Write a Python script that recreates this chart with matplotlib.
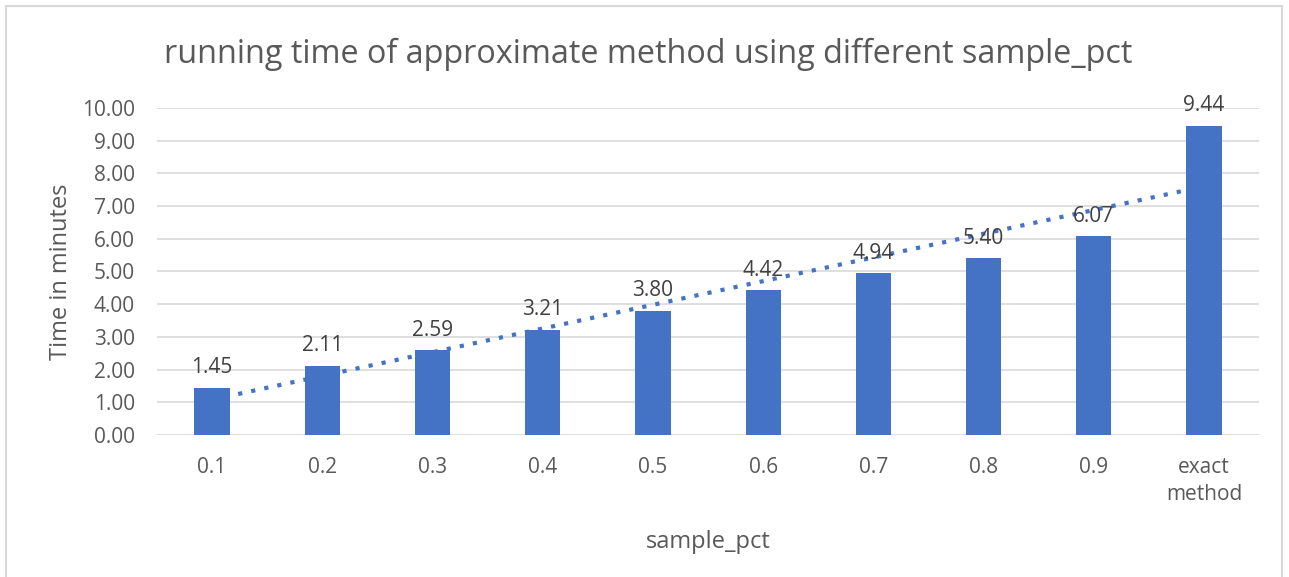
import numpy as np
import matplotlib.pyplot as plt
from matplotlib.patches import Rectangle

# данные с картинки
categories = ["0.1", "0.2", "0.3", "0.4", "0.5", "0.6", "0.7", "0.8", "0.9", "exact\nmethod"]
times = [1.45, 2.11, 2.59, 3.21, 3.80, 4.42, 4.94, 5.40, 6.07, 9.44]

plt.rcParams['font.family'] = ['Open Sans', 'DejaVu Sans']

bar_color = '#4472C4'
text_color = '#595959'

fig = plt.figure(figsize=(12.89, 5.77), dpi=100)
ax = fig.add_axes([0.1218, 0.246, 0.855, 0.567])

x = np.arange(len(categories))
ax.bar(x, times, width=0.32, color=bar_color, zorder=2)

# линейный тренд как в Excel
xt = x + 1
k, b = np.polyfit(xt, times, 1)
ax.plot(x, k * xt + b, linestyle=(0, (1, 2.2)), color=bar_color, linewidth=3, zorder=3)

for xi, v in zip(x, times):
    ax.text(xi, v + 0.3, "{:.2f}".format(v), ha='center', va='bottom', fontsize=15, color='#404040', zorder=4)

ax.set_xlim(-0.5, len(categories) - 0.5)
ax.set_ylim(0, 10)
ax.set_yticks(np.arange(0, 11, 1))
ax.set_yticklabels(["{:.2f}".format(t) for t in range(11)])
ax.set_xticks(x)
ax.set_xticklabels(categories, linespacing=1.35)
ax.tick_params(axis='both', length=0, labelsize=15, colors=text_color)
ax.tick_params(axis='x', pad=16)
ax.tick_params(axis='y', pad=16)
ax.grid(axis='y', color='#d9d9d9', linewidth=1.2, zorder=0)
for s in ax.spines.values():
    s.set_visible(False)

ax.set_ylabel("Time in minutes", fontsize=17, color=text_color, labelpad=6)
ax.set_xlabel("sample_pct", fontsize=17, color=text_color, labelpad=18)
fig.text(0.503, 0.905, "running time of approximate method using different sample_pct",
         ha='center', va='center', fontsize=23.3, color=text_color)

# рамка области диаграммы
fig.patches.append(Rectangle((6 / 1289, -0.01), 1276 / 1289, 1 - 6 / 577 + 0.01,
                             transform=fig.transFigure, fill=False, edgecolor='#d9d9d9', linewidth=1.5))

fig.savefig("out.png", dpi=100)
